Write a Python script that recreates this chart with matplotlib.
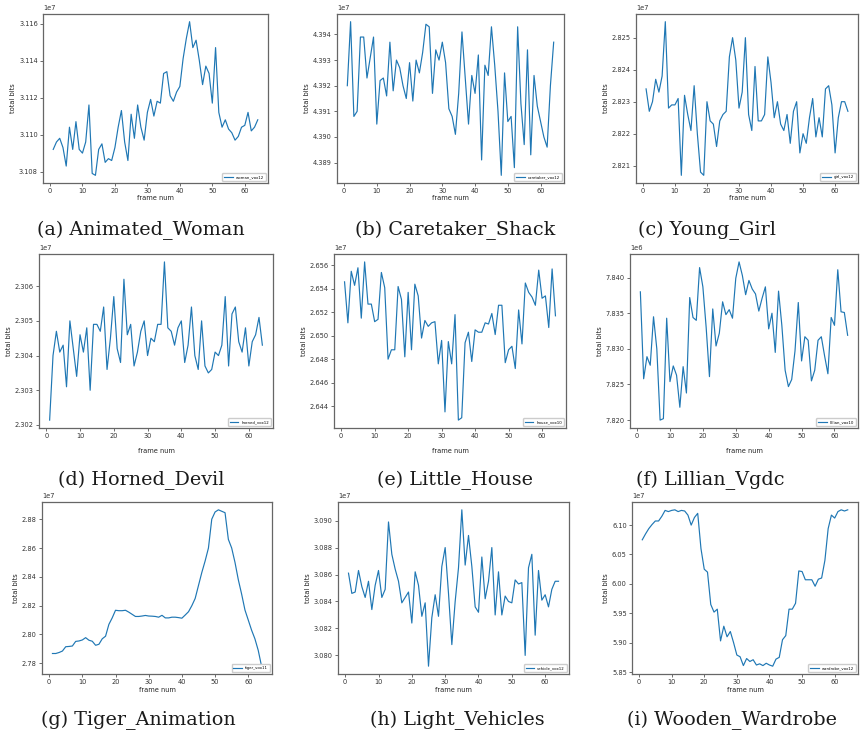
import matplotlib
matplotlib.use("Agg")
import matplotlib.pyplot as plt
import numpy as np

W, H = 860, 735

frames = list(range(1, 65))

woman = [3.1092, 3.1096, 3.1098, 3.1093, 3.1083, 3.1104, 3.1092, 3.1107, 3.1092, 3.1090,
         3.1096, 3.1116, 3.1079, 3.1078, 3.1092, 3.1095, 3.1085, 3.1087, 3.1086, 3.1093,
         3.1104, 3.1113, 3.1096, 3.1086, 3.1111, 3.1098, 3.1116, 3.1104, 3.1097, 3.1112,
         3.1119, 3.1110, 3.1118, 3.1117, 3.1133, 3.1134, 3.1121, 3.1118, 3.1123, 3.1126,
         3.1141, 3.1152, 3.1161, 3.1147, 3.1151, 3.1140, 3.1127, 3.1137, 3.1133, 3.1117,
         3.1147, 3.1112, 3.1104, 3.1108, 3.1103, 3.1101, 3.1097, 3.1099, 3.1104, 3.1105,
         3.1112, 3.1102, 3.1104, 3.1108]

caretaker = [4.3920, 4.3945, 4.3908, 4.3910, 4.3939, 4.3939, 4.3923, 4.3931, 4.3939, 4.3905,
             4.3922, 4.3923, 4.3916, 4.3937, 4.3918, 4.3930, 4.3927, 4.3920, 4.3915, 4.3929,
             4.3914, 4.3930, 4.3925, 4.3933, 4.3944, 4.3943, 4.3917, 4.3934, 4.3930, 4.3937,
             4.3929, 4.3911, 4.3908, 4.3901, 4.3917, 4.3941, 4.3923, 4.3905, 4.3924, 4.3917,
             4.3932, 4.3891, 4.3928, 4.3924, 4.3943, 4.3928, 4.3910, 4.3885, 4.3925, 4.3906,
             4.3908, 4.3888, 4.3943, 4.3913, 4.3897, 4.3934, 4.3893, 4.3924, 4.3912, 4.3906,
             4.3900, 4.3896, 4.3920, 4.3937]

girl = [2.8234, 2.8227, 2.8230, 2.8237, 2.8233, 2.8238, 2.8255, 2.8228, 2.8229, 2.8229,
        2.8231, 2.8207, 2.8232, 2.8226, 2.8221, 2.8235, 2.8220, 2.8208, 2.8207, 2.8230,
        2.8224, 2.8223, 2.8216, 2.8224, 2.8226, 2.8227, 2.8244, 2.8250, 2.8243, 2.8228,
        2.8233, 2.8250, 2.8226, 2.8221, 2.8241, 2.8224, 2.8224, 2.8226, 2.8244, 2.8236,
        2.8225, 2.8230, 2.8223, 2.8221, 2.8226, 2.8217, 2.8227, 2.8230, 2.8214, 2.8220,
        2.8217, 2.8225, 2.8231, 2.8219, 2.8225, 2.8219, 2.8234, 2.8235, 2.8229, 2.8214,
        2.8225, 2.8230, 2.8230, 2.8227]

horned = [2.30214, 2.3040, 2.3047, 2.3041, 2.3043, 2.3031, 2.3050, 2.3042, 2.3034, 2.3046,
          2.3041, 2.3048, 2.3030, 2.3049, 2.3049, 2.3047, 2.3054, 2.3036, 2.3045, 2.3057,
          2.3042, 2.3038, 2.3062, 2.3046, 2.3049, 2.3037, 2.3041, 2.3047, 2.3050, 2.3040,
          2.3045, 2.3044, 2.3049, 2.3049, 2.3067, 2.3048, 2.3047, 2.3043, 2.3048, 2.3050,
          2.3038, 2.3043, 2.3054, 2.3040, 2.3036, 2.3050, 2.3037, 2.3035, 2.3036, 2.3041,
          2.3040, 2.3043, 2.3057, 2.3037, 2.3052, 2.3054, 2.3044, 2.3041, 2.3048, 2.3037,
          2.3044, 2.3046, 2.3051, 2.3043]

house = [2.6546, 2.6511, 2.6555, 2.6543, 2.6558, 2.6515, 2.6563, 2.6527, 2.6527, 2.6512,
         2.6514, 2.6554, 2.6541, 2.6480, 2.6488, 2.6488, 2.6542, 2.6531, 2.6482, 2.6537,
         2.6488, 2.6544, 2.6534, 2.6498, 2.6513, 2.6508, 2.6511, 2.6512, 2.6476, 2.6496,
         2.6435, 2.6495, 2.6476, 2.6518, 2.6428, 2.6430, 2.6494, 2.6503, 2.6478, 2.6505,
         2.6503, 2.6503, 2.6511, 2.6510, 2.6519, 2.6501, 2.6526, 2.6526, 2.6477, 2.6488,
         2.6491, 2.6472, 2.6522, 2.6493, 2.6545, 2.6537, 2.6533, 2.6526, 2.6556, 2.6532,
         2.6534, 2.6507, 2.6557, 2.6517]

lillian = [7.8380, 7.8258, 7.8289, 7.8277, 7.8345, 7.8300, 7.8200, 7.8202, 7.8343, 7.8254,
           7.8276, 7.8263, 7.8218, 7.8275, 7.8238, 7.8372, 7.8344, 7.8340, 7.8414, 7.8387,
           7.8330, 7.8261, 7.8356, 7.8304, 7.8322, 7.8366, 7.8348, 7.8355, 7.8343, 7.8399,
           7.8422, 7.8403, 7.8376, 7.8396, 7.8384, 7.8377, 7.8353, 7.8371, 7.8387, 7.8328,
           7.8350, 7.8295, 7.8381, 7.8333, 7.8270, 7.8247, 7.8257, 7.8297, 7.8365, 7.8283,
           7.8317, 7.8312, 7.8255, 7.8270, 7.8312, 7.8317, 7.8290, 7.8265, 7.8344, 7.8333,
           7.8411, 7.8352, 7.8351, 7.8319]

tiger = [2.7868, 2.7868, 2.7875, 2.7885, 2.7915, 2.7917, 2.7920, 2.7952, 2.7955, 2.7962,
         2.7978, 2.7960, 2.7953, 2.7925, 2.7932, 2.7970, 2.7988, 2.8070, 2.8115, 2.8168,
         2.8165, 2.8165, 2.8168, 2.8155, 2.8140, 2.8125, 2.8125, 2.8128, 2.8132, 2.8128,
         2.8127, 2.8125, 2.8120, 2.8133, 2.8115, 2.8115, 2.8120, 2.8120, 2.8117, 2.8113,
         2.8135, 2.8158, 2.8200, 2.8250, 2.8340, 2.8430, 2.8510, 2.8600, 2.8800, 2.8850,
         2.8865, 2.8855, 2.8845, 2.8660, 2.8600, 2.8500, 2.8380, 2.8280, 2.8170, 2.8100,
         2.8030, 2.7970, 2.7890, 2.7780]

vehicle = [3.0861, 3.0846, 3.0847, 3.0863, 3.0851, 3.0843, 3.0855, 3.0834, 3.0852, 3.0863,
           3.0843, 3.0849, 3.0899, 3.0875, 3.0864, 3.0855, 3.0839, 3.0843, 3.0847, 3.0824,
           3.0862, 3.0852, 3.0829, 3.0839, 3.0792, 3.0828, 3.0845, 3.0829, 3.0866, 3.0880,
           3.0846, 3.0808, 3.0840, 3.0865, 3.0908, 3.0867, 3.0889, 3.0866, 3.0836, 3.0832,
           3.0873, 3.0842, 3.0855, 3.0880, 3.0830, 3.0862, 3.0830, 3.0844, 3.0840, 3.0839,
           3.0856, 3.0853, 3.0854, 3.0800, 3.0865, 3.0875, 3.0815, 3.0863, 3.0841, 3.0845,
           3.0836, 3.0849, 3.0855, 3.0855]

wardrobe = [6.075, 6.085, 6.094, 6.101, 6.107, 6.107, 6.115, 6.125, 6.123, 6.125,
            6.126, 6.123, 6.125, 6.124, 6.117, 6.100, 6.113, 6.120, 6.060, 6.025,
            6.020, 5.965, 5.952, 5.957, 5.903, 5.928, 5.910, 5.919, 5.900, 5.879,
            5.876, 5.861, 5.873, 5.868, 5.871, 5.862, 5.864, 5.861, 5.865, 5.862,
            5.860, 5.872, 5.875, 5.905, 5.912, 5.957, 5.957, 5.967, 6.022, 6.021,
            6.007, 6.007, 6.007, 5.996, 6.008, 6.010, 6.040, 6.094, 6.117, 6.112,
            6.123, 6.126, 6.124, 6.126]

series = [woman, caretaker, girl, horned, house, lillian, tiger, vehicle, wardrobe]
scales = [1e7, 1e7, 1e7, 1e7, 1e7, 1e6, 1e7, 1e7, 1e7]
labels = ["woman_vox12", "caretaker_vox12", "girl_vox12", "horned_vox12", "house_vox10",
          "lillian_vox10", "tiger_vox11", "vehicle_vox12", "wardrobe_vox12"]
captions = ["(a) Animated_Woman", "(b) Caretaker_Shack", "(c) Young_Girl",
            "(d) Horned_Devil", "(e) Little_House", "(f) Lillian_Vgdc",
            "(g) Tiger_Animation", "(h) Light_Vehicles", "(i) Wooden_Wardrobe"]

# axes boxes in pixels: (left, right, top, bottom)
boxes = [(43, 268, 14, 183), (337, 564, 14, 183), (636, 858, 14, 183),
         (39, 273, 254, 428), (334, 566, 254, 428), (630, 858, 254, 428),
         (42, 272, 502, 674), (338, 569, 502, 674), (632, 858, 502, 674)]
xlabel_y = [198, 198, 198, 451, 451, 451, 690, 690, 690]
caption_pos = [(141, 230), (455, 230), (707, 230),
               (141, 480), (455, 480), (710, 480),
               (138, 720), (457, 720), (732, 720)]

fig = plt.figure(figsize=(W / 100, H / 100), dpi=100)

for i, (vals, sc, lab, cap) in enumerate(zip(series, scales, labels, captions)):
    l, r, t, b = boxes[i]
    ax = fig.add_axes([l / W, 1 - b / H, (r - l) / W, (b - t) / H])
    y = np.array(vals) * sc
    ax.plot(frames, y, color="#1f77b4", lw=0.85, label=lab)
    ax.ticklabel_format(axis="y", style="sci", scilimits=(0, 0), useOffset=False)
    ax.yaxis.get_offset_text().set_fontsize(4.8)
    ax.tick_params(labelsize=4.8, length=2.2, width=0.5, pad=1.5, colors="#333333")
    ax.set_xticks([0, 10, 20, 30, 40, 50, 60])
    for s in ax.spines.values():
        s.set_color("#666666")
        s.set_linewidth(0.9)
    ax.set_ylabel("total bits", fontsize=4.8, labelpad=2, color="#222222")
    ax.legend(loc="lower right", fontsize=2.8, handlelength=2.2, borderpad=0.5,
              framealpha=1, edgecolor="#cccccc")
    cx = (l + r) / 2
    fig.text(cx / W, 1 - xlabel_y[i] / H, "frame num", fontsize=4.8,
             ha="center", va="center", color="#222222")
    px, py = caption_pos[i]
    fig.text(px / W, 1 - py / H, cap, fontsize=13.8, family="DejaVu Serif",
             ha="center", va="center", color="#1a1a1a")

fig.savefig("out.png", dpi=100)
